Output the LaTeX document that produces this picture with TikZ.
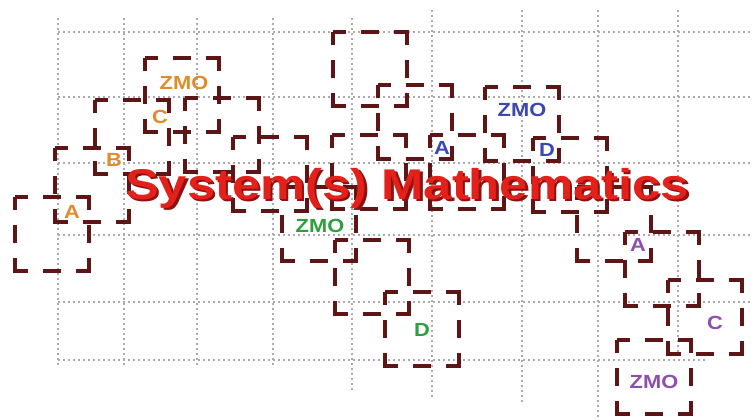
\documentclass[tikz,border=0pt]{standalone}
\usepackage{fontspec}
\setmainfont{Liberation Sans}
\usepackage{graphicx}
\definecolor{sqred}{HTML}{5E1515}
\definecolor{gridgray}{HTML}{ABABAB}
\definecolor{titlered}{HTML}{E3201A}
\definecolor{titleshadow}{HTML}{8E1212}
\definecolor{lorange}{HTML}{E08C2C}
\definecolor{lgreen}{HTML}{2E9E3E}
\definecolor{lblue}{HTML}{3B47B5}
\definecolor{lpurple}{HTML}{8E4FAF}
\newcommand{\shadowtitle}[1]{\rlap{\kern2.5pt\raisebox{-2.5pt}{\color{titleshadow}\scalebox{1.18}[1]{#1}}}{\color{titlered}\scalebox{1.18}[1]{#1}}}
\begin{document}
\begin{tikzpicture}[x=1pt,y=-1pt,
  sq/.style={draw=sqred,line width=3.6pt,dash pattern=on 26pt off 15pt on 18pt off 15pt,dash phase=13pt},
  gridline/.style={draw=gridgray,line width=1.6pt,dash pattern=on 1.6pt off 3.4pt},
  lbl/.style={font=\fontsize{19}{19}\selectfont\bfseries,inner sep=0pt},
  titlestyle/.style={font=\fontsize{43}{43}\selectfont\bfseries,inner sep=0pt,anchor=base}]
\useasboundingbox[fill=white] (0,0) rectangle (755,420);
% grid
\foreach \x/\ya/\yb in {58/18/365,124/18/365,197/18/365,273/18/365,352/18/393,432/10/397,522/10/405,598/10/420,678/10/355}
  \draw[gridline] (\x,\ya) -- (\x,\yb);
\foreach \y/\xb in {32/752,97/752,163/752,235/752,302/752,360/708}
  \draw[gridline] (58,\y) -- (\xb,\y);
% dashed squares
\foreach \x/\y in {15/197,55/148,95/100,145/58,185/98,233/137,282/187,335/240,385/292,333/32,378/85,332/135,430/135,485/87,533/138,577/187,625/232,668/280,617/340}
  \draw[sq] (\x,\y) rectangle ++(74,74);
% title
\node[titlestyle] (title) at (407,199) {\shadowtitle{System(s) Mathematics}};
% labels
\node[lbl,text=lorange] (oa) at (72,212) {\scalebox{1.15}[1]{A}};
\node[lbl,text=lorange] (ob) at (114,160) {\scalebox{1.15}[1]{B}};
\node[lbl,text=lorange] (oc) at (160,117) {\scalebox{1.15}[1]{C}};
\node[lbl,text=lorange] (ozmo) at (184,83) {\scalebox{1.15}[1]{ZMO}};
\node[lbl,text=lgreen] (gzmo) at (320,226) {\scalebox{1.15}[1]{ZMO}};
\node[lbl,text=lgreen] (gd) at (422,330) {\scalebox{1.15}[1]{D}};
\node[lbl,text=lblue] (ba) at (442,148) {\scalebox{1.15}[1]{A}};
\node[lbl,text=lblue] (bzmo) at (522,110) {\scalebox{1.15}[1]{ZMO}};
\node[lbl,text=lblue] (bd) at (547,150) {\scalebox{1.15}[1]{D}};
\node[lbl,text=lpurple] (pa) at (638,245) {\scalebox{1.15}[1]{A}};
\node[lbl,text=lpurple] (pc) at (715,323) {\scalebox{1.15}[1]{C}};
\node[lbl,text=lpurple] (pzmo) at (654,382) {\scalebox{1.15}[1]{ZMO}};
\end{tikzpicture}
\end{document}
